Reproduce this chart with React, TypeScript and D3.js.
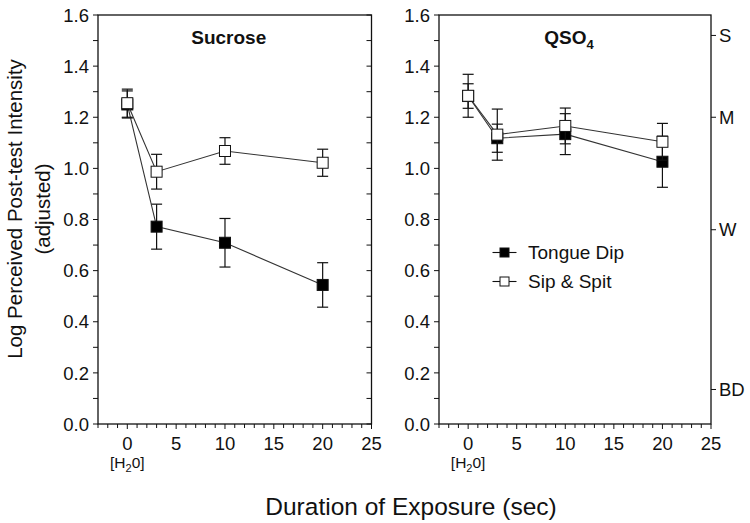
import React from "react";
import * as d3 from "d3";

const times = [0, 3, 10, 20];
const sucroseDip = [1.25, 0.772, 0.709, 0.544];
const sucroseDipErr = [0.053, 0.088, 0.095, 0.087];
const sucroseSip = [1.255, 0.987, 1.068, 1.022];
const sucroseSipErr = [0.055, 0.068, 0.052, 0.053];
const qso4Dip = [1.283, 1.118, 1.134, 1.026];
const qso4DipErr = [0.048, 0.055, 0.08, 0.1];
const qso4Sip = [1.284, 1.132, 1.166, 1.104];
const qso4SipErr = [0.084, 0.1, 0.07, 0.072];

const yTicks = [0, 0.2, 0.4, 0.6, 0.8, 1.0, 1.2, 1.4, 1.6];
const xTicks = [0, 5, 10, 15, 20, 25];
const intensityLabels = ["BD", "W", "M", "S"];
const intensityValues = [0.135, 0.76, 1.2, 1.52];
const seriesNames = ["Tongue Dip", "Sip & Spit"];

const FONT = "'Liberation Sans', Arial, Helvetica, sans-serif";
const INK = "#111";

const TOP = 15;
const BOTTOM = 424;

type PanelProps = {
  x0: number;
  x1: number;
  title: React.ReactNode;
  dip: number[];
  dipErr: number[];
  sip: number[];
  sipErr: number[];
  mirror: boolean;
  rightLabels: boolean;
  legend: boolean;
};

function Panel({ x0, x1, title, dip, dipErr, sip, sipErr, mirror, rightLabels, legend }: PanelProps) {
  const x = d3.scaleLinear().domain([-3, 25]).range([x0, x1]);
  const y = d3.scaleLinear().domain([0, 1.6]).range([BOTTOM, TOP]);
  const minorY = d3.range(0, 17).map((i) => i / 10);
  const minorX = d3.range(-3, 26);
  const line = d3
    .line<number>()
    .x((_, i) => x(times[i]))
    .y((d) => y(d));
  const ms = 11;
  const cap = 5.5;

  const errBars = (vals: number[], errs: number[], key: string) =>
    vals.map((v, i) => {
      const cx = x(times[i]);
      const yt = y(v + errs[i]);
      const yb = y(v - errs[i]);
      return (
        <g key={key + i} stroke={INK} strokeWidth={1.2}>
          <line x1={cx} x2={cx} y1={yt} y2={yb} />
          <line x1={cx - cap} x2={cx + cap} y1={yt} y2={yt} />
          <line x1={cx - cap} x2={cx + cap} y1={yb} y2={yb} />
        </g>
      );
    });

  const markers = (vals: number[], fill: string, key: string) =>
    vals.map((v, i) => (
      <rect
        key={key + i}
        x={x(times[i]) - ms / 2}
        y={y(v) - ms / 2}
        width={ms}
        height={ms}
        fill={fill}
        stroke={INK}
        strokeWidth={1}
      />
    ));

  return (
    <g>
      <rect x={x0} y={TOP} width={x1 - x0} height={BOTTOM - TOP} fill="none" stroke={INK} strokeWidth={1.3} />
      {minorY.map((v) => (
        <line key={"ly" + v} x1={x0 - 5} x2={x0} y1={y(v)} y2={y(v)} stroke={INK} strokeWidth={1} />
      ))}
      {yTicks.map((v) => (
        <text
          key={"lyt" + v}
          x={x0 - 9}
          y={y(v)}
          dy="0.36em"
          textAnchor="end"
          fontSize={18.5}
          fontFamily={FONT}
          fill={INK}
        >
          {v.toFixed(1)}
        </text>
      ))}
      {mirror &&
        minorY.map((v) => (
          <line key={"my" + v} x1={x1 - 5} x2={x1} y1={y(v)} y2={y(v)} stroke={INK} strokeWidth={1} />
        ))}
      {rightLabels &&
        intensityValues.map((v, i) => (
          <g key={"ri" + i}>
            <line x1={x1} x2={x1 + 5} y1={y(v)} y2={y(v)} stroke={INK} strokeWidth={1} />
            <text x={x1 + 8} y={y(v)} dy="0.36em" fontSize={18.5} fontFamily={FONT} fill={INK}>
              {intensityLabels[i]}
            </text>
          </g>
        ))}
      {minorX.map((v) => (
        <line
          key={"mx" + v}
          x1={x(v)}
          x2={x(v)}
          y1={BOTTOM}
          y2={BOTTOM + (v % 5 === 0 ? 5 : 4)}
          stroke={INK}
          strokeWidth={1}
        />
      ))}
      {xTicks.map((v) => (
        <text
          key={"xt" + v}
          x={x(v)}
          y={450}
          textAnchor="middle"
          fontSize={18.5}
          fontFamily={FONT}
          fill={INK}
        >
          {v}
        </text>
      ))}
      <text x={x(0)} y={468} textAnchor="middle" fontSize={15.5} fontFamily={FONT} fill={INK}>
        [H
        <tspan fontSize={11} dy={4}>
          2
        </tspan>
        <tspan dy={-4}>0]</tspan>
      </text>
      <text
        x={(x0 + x1) / 2 - 6}
        y={44}
        textAnchor="middle"
        fontSize={19}
        fontWeight="bold"
        fontFamily={FONT}
        fill={INK}
      >
        {title}
      </text>
      {errBars(dip, dipErr, "de")}
      <path d={line(dip) || ""} fill="none" stroke="#333" strokeWidth={1.1} />
      {markers(dip, "#000", "dm")}
      {errBars(sip, sipErr, "se")}
      <path d={line(sip) || ""} fill="none" stroke="#333" strokeWidth={1.1} />
      {markers(sip, "#fff", "sm")}
      {legend && (
        <g>
          {seriesNames.map((name, i) => {
            const ly = i === 0 ? 252.5 : 281.5;
            return (
              <g key={name}>
                <line x1={492.5} x2={516.5} y1={ly} y2={ly} stroke={INK} strokeWidth={1.1} />
                <rect
                  x={504.5 - 4.5}
                  y={ly - 4.5}
                  width={9}
                  height={9}
                  fill={i === 0 ? "#000" : "#fff"}
                  stroke={INK}
                  strokeWidth={1}
                />
                <text x={528} y={ly} dy="0.36em" fontSize={19} fontFamily={FONT} fill={INK}>
                  {name}
                </text>
              </g>
            );
          })}
        </g>
      )}
    </g>
  );
}

export default function App() {
  return (
    <svg
      width={750}
      height={523}
      viewBox="0 0 750 523"
      style={{ position: "absolute", left: 0, top: 0, background: "#fff" }}
    >
      <rect x={0} y={0} width={750} height={523} fill="#fff" />
      <Panel
        x0={98}
        x1={371.5}
        title="Sucrose"
        dip={sucroseDip}
        dipErr={sucroseDipErr}
        sip={sucroseSip}
        sipErr={sucroseSipErr}
        mirror={true}
        rightLabels={false}
        legend={false}
      />
      <Panel
        x0={439}
        x1={711}
        title={
          <>
            QSO
            <tspan fontSize={13} dy={5}>
              4
            </tspan>
          </>
        }
        dip={qso4Dip}
        dipErr={qso4DipErr}
        sip={qso4Sip}
        sipErr={qso4SipErr}
        mirror={false}
        rightLabels={true}
        legend={true}
      />
      <text
        transform="translate(15,209) rotate(-90)"
        textAnchor="middle"
        dy="0.36em"
        fontSize={20.5}
        fontFamily={FONT}
        fill={INK}
      >
        Log Perceived Post-test Intensity
      </text>
      <text
        transform="translate(43,209) rotate(-90)"
        textAnchor="middle"
        dy="0.36em"
        fontSize={20.5}
        fontFamily={FONT}
        fill={INK}
      >
        (adjusted)
      </text>
      <text x={411} y={515} textAnchor="middle" fontSize={24.5} fontFamily={FONT} fill={INK}>
        Duration of Exposure (sec)
      </text>
    </svg>
  );
}
